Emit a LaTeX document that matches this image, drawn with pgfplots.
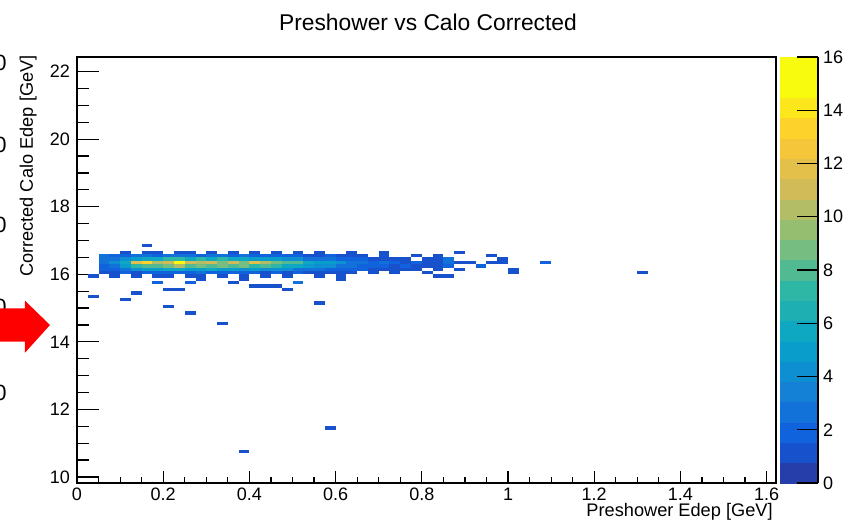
\documentclass[border=0pt]{standalone}
\usepackage{pgfplots}
\pgfplotsset{compat=1.18}
\usepackage{pgfplotstable}
\usepackage{fontspec}
\setmainfont{Liberation Sans}
\pgfdeclareplotmark{bin}{\pgfpathrectangle{\pgfpoint{-2.694pt}{-0.845pt}}{\pgfpoint{5.388pt}{1.690pt}}\pgfusepathqfill}
\pgfplotstableread[row sep=\\]{
x y c\\
0.0625 16.35 3\\ 0.0875 16.35 4\\ 0.1125 16.35 6\\ 0.1375 16.35 12\\ 0.1625 16.35 13\\ 0.1875 16.35 10\\ 0.2125 16.35 11\\ 0.2375 16.35 15\\ 0.2625 16.35 11\\ 0.2875 16.35 10\\ 0.3125 16.35 11\\ 0.3375 16.35 9\\ 0.3625 16.35 11\\ 0.3875 16.35 9\\ 0.4125 16.35 12\\ 0.4375 16.35 10\\ 0.4625 16.35 9\\ 0.4875 16.35 8\\ 0.5125 16.35 8\\ 0.5375 16.35 6\\ 0.5625 16.35 5\\ 0.5875 16.35 5\\ 0.6125 16.35 4\\ 0.6375 16.35 3\\ 0.6625 16.35 3\\ 0.6875 16.35 2\\ 0.7125 16.35 3\\ 0.7375 16.35 2\\ 0.7625 16.35 1\\ 0.7875 16.35 2\\ 0.8125 16.35 1\\ 0.8375 16.35 1\\ 0.8625 16.35 3\\ 0.8875 16.35 1\\ 0.9125 16.35 1\\ 0.9625 16.35 1\\ 0.9875 16.35 1\\ 1.0875 16.35 2\\
0.0625 16.25 2\\ 0.0875 16.25 3\\ 0.1125 16.25 5\\ 0.1375 16.25 7\\ 0.1625 16.25 8\\ 0.1875 16.25 8\\ 0.2125 16.25 9\\ 0.2375 16.25 10\\ 0.2625 16.25 8\\ 0.2875 16.25 9\\ 0.3125 16.25 8\\ 0.3375 16.25 9\\ 0.3625 16.25 8\\ 0.3875 16.25 9\\ 0.4125 16.25 7\\ 0.4375 16.25 8\\ 0.4625 16.25 7\\ 0.4875 16.25 6\\ 0.5125 16.25 6\\ 0.5375 16.25 5\\ 0.5625 16.25 4\\ 0.5875 16.25 4\\ 0.6125 16.25 3\\ 0.6375 16.25 3\\ 0.6625 16.25 2\\ 0.6875 16.25 2\\ 0.7125 16.25 2\\ 0.7375 16.25 1\\ 0.7625 16.25 2\\ 0.7875 16.25 1\\ 0.8125 16.25 1\\ 0.8375 16.25 1\\ 0.8625 16.25 2\\ 0.9375 16.25 2\\
0.0625 16.45 3\\ 0.0875 16.45 3\\ 0.1125 16.45 4\\ 0.1375 16.45 5\\ 0.1625 16.45 6\\ 0.1875 16.45 6\\ 0.2125 16.45 7\\ 0.2375 16.45 7\\ 0.2625 16.45 6\\ 0.2875 16.45 7\\ 0.3125 16.45 6\\ 0.3375 16.45 7\\ 0.3625 16.45 6\\ 0.3875 16.45 6\\ 0.4125 16.45 5\\ 0.4375 16.45 5\\ 0.4625 16.45 5\\ 0.4875 16.45 4\\ 0.5125 16.45 4\\ 0.5375 16.45 3\\ 0.5625 16.45 3\\ 0.5875 16.45 3\\ 0.6125 16.45 2\\ 0.6375 16.45 2\\ 0.6625 16.45 2\\ 0.6875 16.45 1\\ 0.7125 16.45 1\\ 0.7375 16.45 1\\ 0.7625 16.45 1\\ 0.8125 16.45 1\\ 0.8375 16.45 1\\ 0.8625 16.45 3\\ 0.9875 16.45 1\\
0.0625 16.15 2\\ 0.0875 16.15 2\\ 0.1125 16.15 3\\ 0.1375 16.15 4\\ 0.1625 16.15 5\\ 0.1875 16.15 5\\ 0.2125 16.15 6\\ 0.2375 16.15 6\\ 0.2625 16.15 5\\ 0.2875 16.15 5\\ 0.3125 16.15 6\\ 0.3375 16.15 5\\ 0.3625 16.15 5\\ 0.3875 16.15 4\\ 0.4125 16.15 5\\ 0.4375 16.15 4\\ 0.4625 16.15 4\\ 0.4875 16.15 4\\ 0.5125 16.15 3\\ 0.5375 16.15 3\\ 0.5625 16.15 3\\ 0.5875 16.15 2\\ 0.6125 16.15 2\\ 0.6375 16.15 2\\ 0.6625 16.15 2\\ 0.6875 16.15 1\\ 0.7125 16.15 1\\ 0.7375 16.15 1\\ 0.7625 16.15 1\\ 0.7875 16.15 1\\ 0.8375 16.15 1\\ 0.8875 16.15 1\\ 1.0125 16.15 1\\
0.0625 16.55 3\\ 0.0875 16.55 2\\ 0.1125 16.55 2\\ 0.1375 16.55 3\\ 0.1625 16.55 3\\ 0.1875 16.55 2\\ 0.2125 16.55 3\\ 0.2375 16.55 3\\ 0.2625 16.55 3\\ 0.2875 16.55 2\\ 0.3125 16.55 3\\ 0.3375 16.55 3\\ 0.3625 16.55 2\\ 0.3875 16.55 3\\ 0.4125 16.55 2\\ 0.4375 16.55 2\\ 0.4625 16.55 2\\ 0.4875 16.55 2\\ 0.5125 16.55 2\\ 0.5375 16.55 1\\ 0.5625 16.55 1\\ 0.5875 16.55 2\\ 0.6125 16.55 1\\ 0.6375 16.55 1\\ 0.6625 16.55 1\\ 0.7125 16.55 1\\ 0.7875 16.55 1\\ 0.8375 16.55 1\\ 0.9625 16.55 1\\
0.0625 16.05 1\\ 0.0875 16.05 1\\ 0.1125 16.05 2\\ 0.1375 16.05 1\\ 0.1625 16.05 2\\ 0.1875 16.05 2\\ 0.2125 16.05 2\\ 0.2375 16.05 2\\ 0.2625 16.05 2\\ 0.2875 16.05 3\\ 0.3125 16.05 2\\ 0.3375 16.05 2\\ 0.3625 16.05 2\\ 0.3875 16.05 2\\ 0.4125 16.05 2\\ 0.4375 16.05 1\\ 0.4625 16.05 2\\ 0.4875 16.05 1\\ 0.5125 16.05 2\\ 0.5375 16.05 1\\ 0.5625 16.05 1\\ 0.5875 16.05 1\\ 0.6125 16.05 1\\ 0.6375 16.05 1\\ 0.6875 16.05 1\\ 0.7375 16.05 1\\ 0.8125 16.05 1\\ 1.0125 16.05 1\\ 1.3125 16.05 1\\
0.1125 16.65 1\\ 0.1625 16.65 1\\ 0.1875 16.65 1\\ 0.2375 16.65 1\\ 0.2625 16.65 1\\ 0.3125 16.65 1\\ 0.3625 16.65 1\\ 0.4125 16.65 1\\ 0.4625 16.65 1\\ 0.5125 16.65 1\\ 0.5625 16.65 1\\ 0.6375 16.65 1\\ 0.7125 16.65 1\\ 0.8875 16.65 1\\
0.1625 16.85 1\\
0.0375 15.95 1\\ 0.0875 15.95 1\\ 0.1375 15.95 1\\ 0.1875 15.95 1\\ 0.2125 15.95 1\\ 0.2625 15.95 1\\ 0.2875 15.95 1\\ 0.3375 15.95 1\\ 0.3875 15.95 1\\ 0.4375 15.95 1\\ 0.4875 15.95 1\\ 0.5625 15.95 1\\ 0.6125 15.95 1\\ 0.8375 15.95 1\\ 0.8625 15.95 1\\
0.2875 15.85 1\\ 0.3875 15.85 1\\ 0.6125 15.85 1\\
0.1875 15.75 2\\ 0.2625 15.75 2\\ 0.3625 15.75 1\\ 0.5125 15.75 3\\
0.0375 15.35 1\\ 0.1125 15.25 1\\ 0.1375 15.45 1\\ 0.2125 15.55 1\\ 0.2375 15.55 1\\ 0.2125 15.05 1\\ 0.2625 14.85 1\\ 0.3375 14.55 1\\ 0.4125 15.65 1\\ 0.4375 15.65 1\\ 0.4625 15.65 1\\ 0.4875 15.55 1\\ 0.5625 15.15 1\\ 0.5875 11.45 1\\ 0.3875 10.75 1\\
}\histdata
\begin{document}
\begin{tikzpicture}
\begin{axis}[
  at={(0,0)}, anchor=south west,
  scale only axis, width=349.5pt, height=213pt,
  xmin=0, xmax=1.6218, ymin=9.822, ymax=22.433,
  xtick={0,0.2,0.4,0.6,0.8,1,1.2,1.4,1.6},
  xticklabels={0,0.2,0.4,0.6,0.8,1,1.2,1.4,1.6},
  ytick={10,12,14,16,18,20,22},
  minor x tick num=3, minor y tick num=3,
  tick align=inside, tick pos=left,
  xtick style={/pgfplots/major tick length=6pt, /pgfplots/minor tick length=3pt},
  ytick style={/pgfplots/major tick length=11pt, /pgfplots/minor tick length=6pt},
  tick style={black, line width=0.6pt},
  axis line style={line width=0.6pt},
  /pgf/number format/assume math mode=true,
  tick label style={font=\fontsize{9}{10}\selectfont},
  xticklabel style={yshift=1pt},
  colormap={bird}{rgb=(0.1486,0.2438,0.6649) rgb=(0.0890,0.3212,0.8006) rgb=(0.0630,0.3887,0.8624) rgb=(0.0705,0.4464,0.8505) rgb=(0.0780,0.5041,0.8385) rgb=(0.0561,0.5592,0.8197) rgb=(0.0342,0.6143,0.8008) rgb=(0.0546,0.6571,0.7616) rgb=(0.1174,0.6874,0.7021) rgb=(0.1802,0.7178,0.6425) rgb=(0.3202,0.7304,0.5720) rgb=(0.4601,0.7429,0.5015) rgb=(0.5878,0.7459,0.4429) rgb=(0.7032,0.7394,0.3964) rgb=(0.8186,0.7328,0.3499) rgb=(0.8894,0.7542,0.2887) rgb=(0.9602,0.7755,0.2274) rgb=(0.9918,0.8256,0.1682) rgb=(0.9841,0.9044,0.1111) rgb=(0.9764,0.9832,0.0539) rgb=(0.9764,0.9832,0.0539)},
  colormap access=piecewise constant,
  point meta min=0, point meta max=16,
  colorbar,
  colorbar style={
    at={(parent axis.north east)}, anchor=north west, xshift=-6.535pt,
    width=19pt,
    ytick={0,2,4,6,8,10,12,14,16},
    minor y tick num=0,
    axis x line=none,
    axis y line*=right,
    yticklabel pos=right,
    tick align=inside,
    major tick length=10.5pt,
    tick style={black, line width=0.6pt},
    axis line style={line width=0.6pt},
    /pgf/number format/assume math mode=true,
    yticklabel style={font=\fontsize{9}{10}\selectfont, xshift=-1pt},
  },
]
\addplot[scatter, only marks, mark=bin, scatter src=explicit,
  scatter/use mapped color={draw=mapped color, fill=mapped color}]
  table[x=x, y=y, meta=c] {\histdata};
\draw[line width=0.6pt] (axis cs:0,9.822) rectangle (axis cs:0.05,10);
\end{axis}
% labels and title
\node[font=\fontsize{11.4}{13}\selectfont] at (175.5pt,230.5pt) {Preshower vs Calo Corrected};
\node[font=\fontsize{9.1}{10}\selectfont, anchor=base east, inner sep=0pt] at (348pt,-16.5pt) {Preshower Edep [GeV]};
\node[font=\fontsize{9.1}{10}\selectfont, anchor=base east, inner sep=0pt, rotate=90] at (-22pt,214pt) {Corrected Calo Edep [GeV]};
% cropped glyphs of a neighbouring figure at the left edge
\foreach \yy in {210,169,129,88,45}{
  \node[font=\fontsize{11}{12}\selectfont, anchor=east, inner sep=0pt] at (-35pt,\yy pt) {0};
}
% red arrow
\fill[red] (-40pt,87.35pt) -- (-26pt,87.35pt) -- (-26pt,91.15pt) -- (-13.5pt,79pt) -- (-26pt,65.15pt) -- (-26pt,70.65pt) -- (-40pt,70.65pt) -- cycle;
\pgfresetboundingbox
\path[use as bounding box] (-38.5pt,-21pt) rectangle (384.5pt,241.5pt);
\end{tikzpicture}
\end{document}
